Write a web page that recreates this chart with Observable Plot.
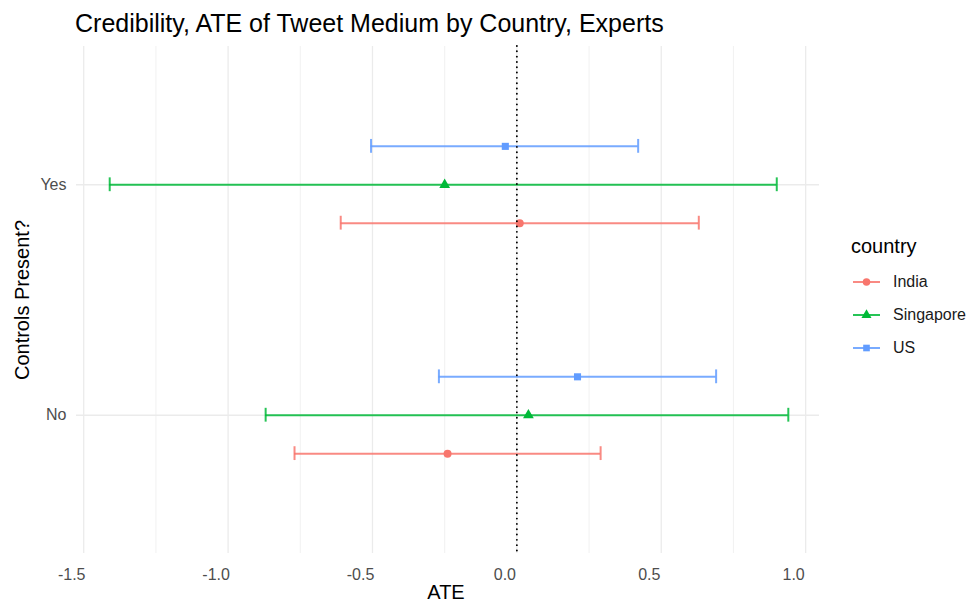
<!DOCTYPE html>
<html>
<head>
<meta charset="utf-8">
<script src="https://cdn.jsdelivr.net/npm/d3@7"></script>
<script src="https://cdn.jsdelivr.net/npm/@observablehq/plot@0.6"></script>
<style>
  body { margin: 0; background: #fff; font-family: "Liberation Sans", Arial, Helvetica, sans-serif; }
  #wrap { position: relative; width: 971px; height: 604px; overflow: hidden; }
  #title { position: absolute; left: 75px; top: 10px; font-size: 25px; line-height: 26px; color: #000; white-space: nowrap; }
  #chart { position: absolute; left: 0; top: 40px; }
  #legend { position: absolute; left: 851px; top: 234px; color: #000; }
  #legend .lt { font-size: 20px; line-height: 24px; margin-bottom: 7px; }
  #legend .row { display: flex; align-items: center; height: 33px; font-size: 16px; color: #1a1a1a; }
  #legend svg { margin-right: 12px; }
</style>
</head>
<body>
<div id="wrap">
  <div id="title">Credibility, ATE of Tweet Medium by Country, Experts</div>
  <div id="chart"></div>
  <div id="legend"></div>
</div>
<script>
// ---- data ----
const controls = ["No", "Yes"];
const countries = ["India", "Singapore", "US"];
const colors = ["#F8766D", "#00BA38", "#619CFF"];
const symbols = ["circle", "triangle", "square"];

// estimates and interval bounds, ordered as controls: [No, Yes]
const indiaEst = [-0.24, 0.01];
const indiaLo  = [-0.77, -0.61];
const indiaHi  = [0.29, 0.63];
const singaporeEst = [0.04, -0.25];
const singaporeLo  = [-0.87, -1.41];
const singaporeHi  = [0.94, 0.90];
const usEst = [0.21, -0.04];
const usLo  = [-0.27, -0.505];
const usHi  = [0.69, 0.42];

const majorTicks = [-1.5, -1.0, -0.5, 0.0, 0.5, 1.0];
const minorTicks = [-1.25, -0.75, -0.25, 0.25, 0.75];

// ---- build table ----
const series = {
  India: [indiaEst, indiaLo, indiaHi],
  Singapore: [singaporeEst, singaporeLo, singaporeHi],
  US: [usEst, usLo, usHi]
};
const dodge = 0.5 / 3;
const rows = [];
countries.forEach((c, k) => {
  const [est, lo, hi] = series[c];
  controls.forEach((ctl, i) => {
    rows.push({country: c, controls: ctl, est: est[i], lo: lo[i], hi: hi[i], y: (i + 1) + (k - 1) * dodge});
  });
});

const capH = 0.03;
const grid = "#ebebeb";

const chart = Plot.plot({
  width: 971,
  height: 564,
  marginLeft: 76,
  marginRight: 152,
  marginTop: 6,
  marginBottom: 51,
  style: {fontFamily: "Liberation Sans, Arial, sans-serif", background: "#fff"},
  x: {domain: [-1.525, 1.048]},
  y: {domain: [0.4, 2.6]},
  color: {domain: countries, range: colors},
  symbol: {domain: countries, range: symbols},
  marks: [
    Plot.ruleX(minorTicks, {stroke: grid, strokeWidth: 0.7}),
    Plot.ruleX(majorTicks, {stroke: grid, strokeWidth: 1.3}),
    Plot.ruleY([1, 2], {stroke: grid, strokeWidth: 1.3}),
    Plot.ruleY(rows, {y: "y", x1: "lo", x2: "hi", stroke: "country", strokeWidth: 2, strokeOpacity: 0.85}),
    Plot.ruleX(rows, {x: "lo", y1: d => d.y - capH, y2: d => d.y + capH, stroke: "country", strokeWidth: 2, strokeOpacity: 0.85}),
    Plot.ruleX(rows, {x: "hi", y1: d => d.y - capH, y2: d => d.y + capH, stroke: "country", strokeWidth: 2, strokeOpacity: 0.85}),
    Plot.dot(rows, {x: "est", y: "y", fill: "country", symbol: "country", r: 4, stroke: null}),
    Plot.ruleX([0], {stroke: "#000", strokeWidth: 1.9, strokeDasharray: "0.01,5.3", strokeLinecap: "round"}),
    Plot.axisX({ticks: majorTicks, tickSize: 0, tickPadding: 15, tickFormat: d => d.toFixed(1), fontSize: 16, fill: "#4d4d4d", dx: -12, label: null}),
    Plot.axisY({ticks: [1, 2], tickSize: 0, tickPadding: 10, tickFormat: d => controls[d - 1], fontSize: 16, fill: "#4d4d4d", label: null}),
    Plot.text(["ATE"], {frameAnchor: "bottom", dy: 39, lineAnchor: "middle", textAnchor: "middle", fontSize: 20, fill: "#000", dx: -2}),
    Plot.text(["Controls Present?"], {frameAnchor: "left", rotate: -90, dx: -54, lineAnchor: "middle", textAnchor: "middle", fontSize: 20, fill: "#000"})
  ]
});
document.getElementById("chart").appendChild(chart);

// ---- legend ----
const legend = d3.select("#legend");
legend.append("div").attr("class", "lt").text("country");
countries.forEach((c, k) => {
  const row = legend.append("div").attr("class", "row");
  const svg = row.append("svg").attr("width", 30).attr("height", 16);
  svg.append("line").attr("x1", 2).attr("x2", 29).attr("y1", 8).attr("y2", 8)
    .attr("stroke", colors[k]).attr("stroke-width", 2).attr("stroke-opacity", 0.85);
  svg.append("path")
    .attr("transform", "translate(15.5,8)")
    .attr("d", d3.symbol(symbols[k] === "circle" ? d3.symbolCircle : symbols[k] === "triangle" ? d3.symbolTriangle : d3.symbolSquare, 44)())
    .attr("fill", colors[k]);
  row.append("span").text(c);
});
</script>
</body>
</html>
